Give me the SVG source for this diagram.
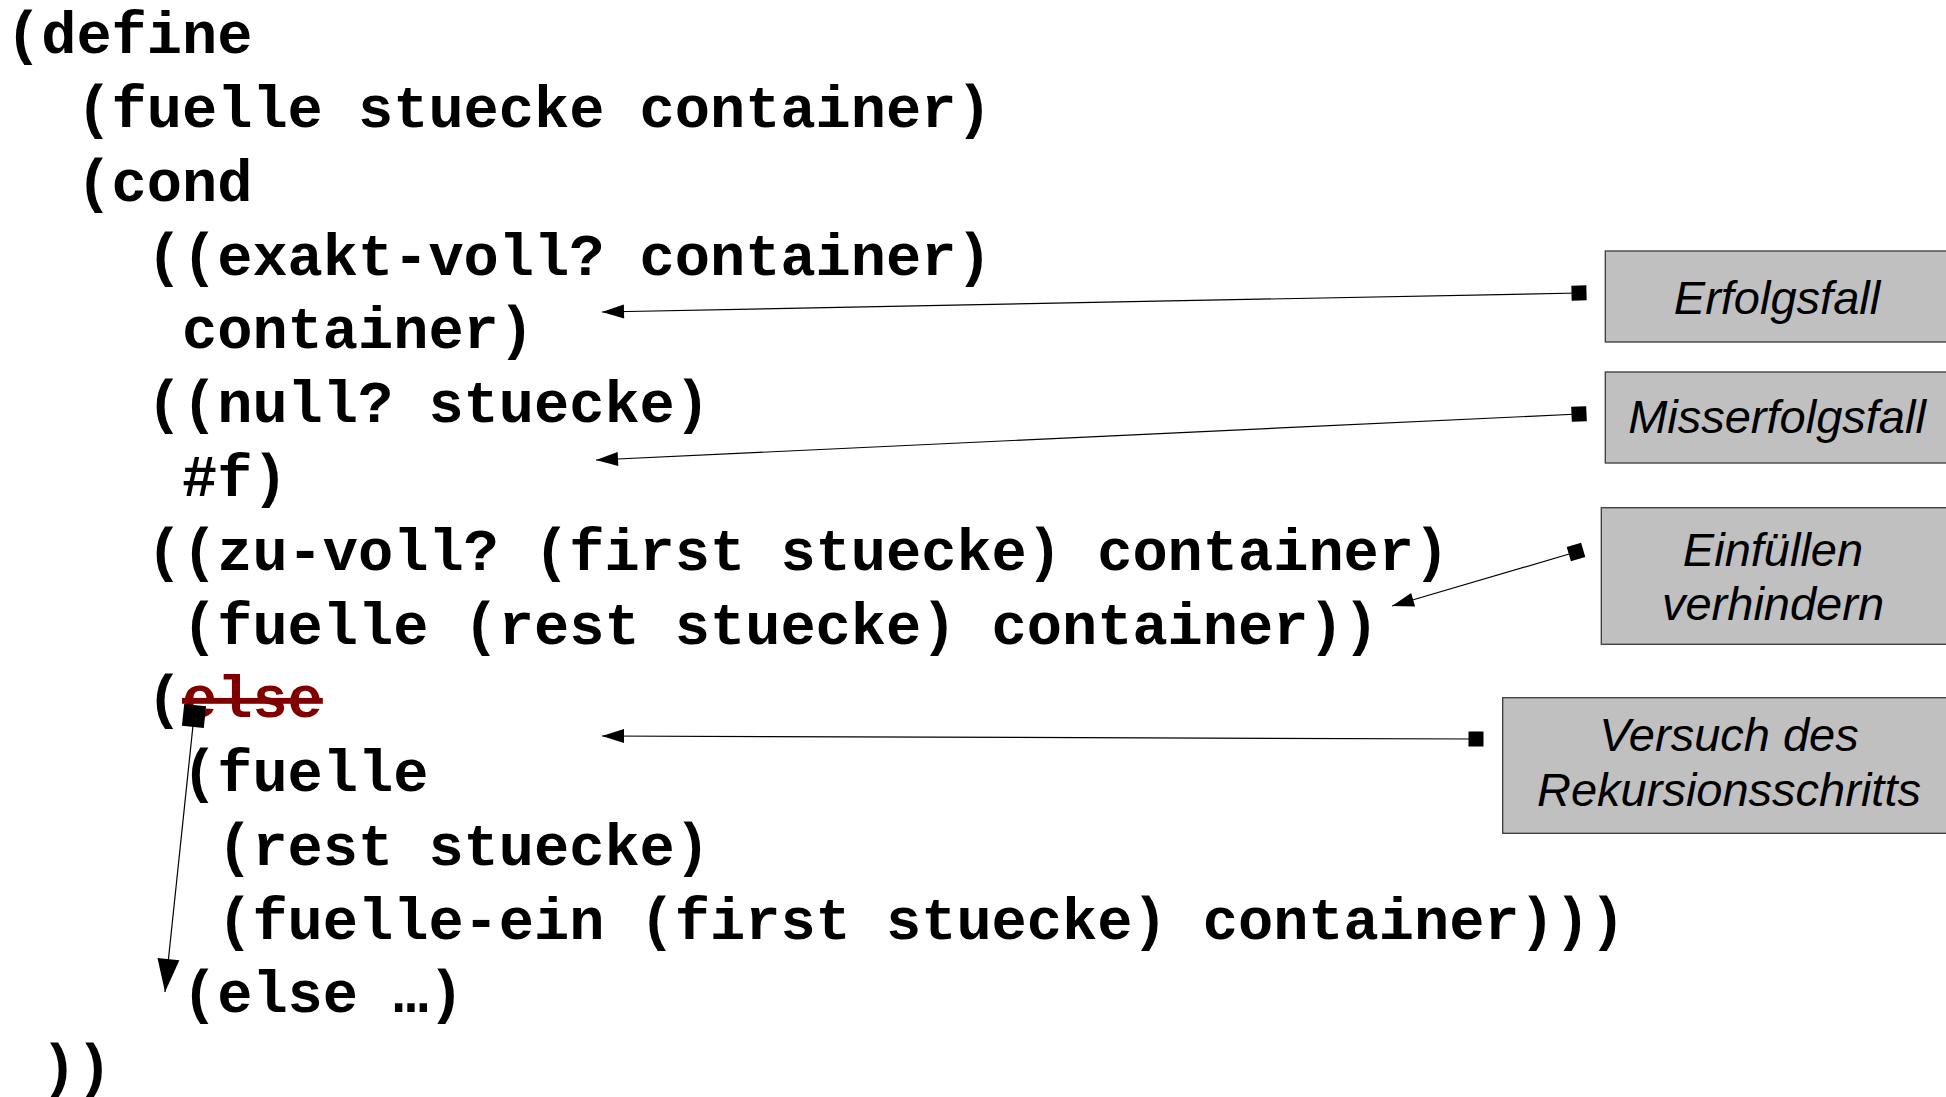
<svg xmlns="http://www.w3.org/2000/svg" width="1946" height="1097" viewBox="0 0 1946 1097">
<style>
.code{font-family:"Liberation Mono","DejaVu Sans Mono",monospace;font-weight:bold;font-size:58.67px;fill:#000}
.del{fill:#800000;text-decoration:line-through}
.box{fill:#c0c0c0;stroke:#3a3a3a;stroke-width:1.3}
.lbl{font-family:"Liberation Sans",Arial,sans-serif;font-style:italic;font-size:47px;fill:#000;text-anchor:middle}
.con{stroke:#000;stroke-width:1.2;fill:none}
</style>
<defs>
<marker id="arr" markerUnits="userSpaceOnUse" markerWidth="24" markerHeight="16" refX="22" refY="7" orient="auto" overflow="visible"><path d="M0,0 L22,7 L0,14 z" fill="#000"/></marker>
<marker id="sq" markerUnits="userSpaceOnUse" markerWidth="16" markerHeight="16" refX="7.5" refY="7.5" orient="auto" overflow="visible"><rect width="15" height="15" fill="#000"/></marker>
<marker id="arrL" markerUnits="userSpaceOnUse" markerWidth="34" markerHeight="24" refX="33" refY="11" orient="auto" overflow="visible"><path d="M0,0 L33,11 L0,22 z" fill="#000"/></marker>
<marker id="sqL" markerUnits="userSpaceOnUse" markerWidth="23" markerHeight="23" refX="11" refY="11" orient="auto" overflow="visible"><rect width="22" height="22" fill="#000"/></marker>
</defs>
<rect width="1946" height="1097" fill="#fff"/>
<g id="code" class="code">
<text x="6" y="53.3">(define</text>
<text x="76.4" y="127.1">(fuelle stuecke container)</text>
<text x="76.4" y="200.8">(cond</text>
<text x="146.8" y="274.6">((exakt-voll? container)</text>
<text x="182" y="348.4">container)</text>
<text x="146.8" y="422.2">((null? stuecke)</text>
<text x="182" y="495.9">#f)</text>
<text x="146.8" y="569.7">((zu-voll? (first stuecke) container)</text>
<text x="182" y="643.5">(fuelle (rest stuecke) container))</text>
<text x="146.8" y="717.2">(<tspan class="del">else</tspan></text>
<text x="182" y="791">(fuelle</text>
<text x="217.2" y="864.8">(rest stuecke)</text>
<text x="217.2" y="938.6">(fuelle-ein (first stuecke) container)))</text>
<text x="182" y="1012.3">(else …)</text>
<text x="41.2" y="1086.1">))</text>
</g>
<g id="erfolgsfall">
<rect class="box" x="1605.3" y="251" width="345" height="91"/>
<text class="lbl" x="1777" y="314">Erfolgsfall</text>
</g>
<g id="misserfolgsfall">
<rect class="box" x="1605.3" y="372" width="345" height="91"/>
<text class="lbl" x="1777" y="433">Misserfolgsfall</text>
</g>
<g id="einfuellen-verhindern">
<rect class="box" x="1601.3" y="507.7" width="350" height="136.6"/>
<text class="lbl" x="1773" y="566">Einfüllen</text>
<text class="lbl" x="1773" y="620">verhindern</text>
</g>
<g id="versuch-rekursionsschritt">
<rect class="box" x="1502.7" y="697.7" width="450" height="135.6"/>
<text class="lbl" x="1729" y="751">Versuch des</text>
<text class="lbl" x="1729" y="806">Rekursionsschritts</text>
</g>
<g id="connectors" class="con">
<line x1="1579" y1="293" x2="602" y2="312" marker-start="url(#sq)" marker-end="url(#arr)"/>
<line x1="1579" y1="414" x2="596" y2="460" marker-start="url(#sq)" marker-end="url(#arr)"/>
<line x1="1576" y1="552" x2="1392" y2="606" marker-start="url(#sq)" marker-end="url(#arr)"/>
<line x1="1476" y1="739" x2="602" y2="736" marker-start="url(#sq)" marker-end="url(#arr)"/>
<line x1="194" y1="716" x2="165" y2="992" marker-start="url(#sqL)" marker-end="url(#arrL)"/>
</g>
</svg>
